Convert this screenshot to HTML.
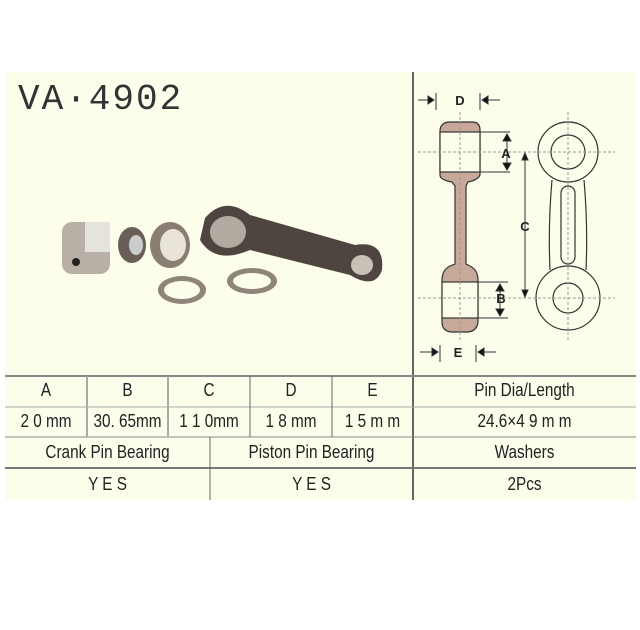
<!DOCTYPE html>
<html><head><style>
body{margin:0;width:640px;height:630px;background:#fff;position:relative;overflow:hidden;font-family:"Liberation Sans",sans-serif}
#p{position:absolute;left:5px;top:72px;width:631px;height:428px;background:#fdfdec}
.t{position:absolute;font-family:"Liberation Sans Narrow","Liberation Sans",sans-serif;font-size:18px;color:#222;text-align:center;transform:scaleX(.85)}
</style></head><body>
<div id="p"></div>
<div style="position:absolute;left:18px;top:78px;font-family:'Liberation Mono',monospace;font-size:36px;letter-spacing:2px;color:#333;line-height:44px">VA·4902</div>
<svg style="position:absolute;left:0;top:0" width="640" height="630">
<g stroke="#666" fill="none">
<line x1="413" y1="72" x2="413" y2="500" stroke-width="2"/>
<line x1="5" y1="376" x2="636" y2="376" stroke-width="2" stroke="#888"/>
<line x1="5" y1="407" x2="636" y2="407" stroke="#aaa"/>
<line x1="5" y1="437" x2="636" y2="437" stroke="#888"/>
<line x1="5" y1="468" x2="636" y2="468" stroke-width="2" stroke="#777"/>
<line x1="87" y1="376" x2="87" y2="437" stroke="#aaa" stroke-width="2"/>
<line x1="168" y1="376" x2="168" y2="437" stroke="#aaa" stroke-width="2"/>
<line x1="250" y1="376" x2="250" y2="437"/>
<line x1="332" y1="376" x2="332" y2="437"/>
<line x1="210" y1="437" x2="210" y2="500"/>
</g>
<g>
<rect x="62" y="222" width="48" height="52" rx="10" fill="#b8b0a6"/>
<rect x="85" y="222" width="25" height="30" fill="#e6e2dc"/>
<circle cx="76" cy="262" r="4" fill="#222"/>
<ellipse cx="132" cy="245" rx="14" ry="18" fill="#6a5f58"/>
<ellipse cx="136" cy="245" rx="7" ry="10" fill="#ccc"/>
<ellipse cx="170" cy="245" rx="20" ry="23" fill="#8a7d72"/>
<ellipse cx="173" cy="245" rx="13" ry="16" fill="#e8e4da"/>
<path d="M205 218 Q225 195 250 215 L355 245 Q385 240 382 270 Q375 290 350 275 L250 250 Q215 265 200 240Z" fill="#4e4540"/>
<ellipse cx="228" cy="232" rx="18" ry="16" fill="#b2aaa0"/>
<ellipse cx="362" cy="265" rx="11" ry="10" fill="#c9c1b6"/>
<ellipse cx="182" cy="290" rx="24" ry="14" fill="#8e847a"/>
<ellipse cx="182" cy="290" rx="18" ry="9" fill="#fdfdec"/>
<ellipse cx="252" cy="281" rx="25" ry="13" fill="#8e847a"/>
<ellipse cx="252" cy="281" rx="19" ry="8" fill="#fdfdec"/>
</g>
<g stroke="#333" fill="none" stroke-width="1.2">
<path d="M440 130 Q441 122 450 122 L472 122 Q480 122 480 130 L480 175 Q478 180 468 182 L466 186 L466 264 L470 266 Q478 270 478 280 L478 322 Q477 331 468 332 L451 332 Q442 331 442 322 L442 280 Q442 270 450 266 L455 264 L455 186 L452 182 Q440 180 440 175Z" fill="#c8a898"/>
<rect x="440" y="132" width="40" height="40" fill="#fdfdec"/>
<rect x="442" y="282" width="36" height="36" fill="#fdfdec"/>
<circle cx="568" cy="152" r="30"/><circle cx="568" cy="152" r="17"/>
<circle cx="568" cy="298" r="32"/><circle cx="568" cy="298" r="15"/>
<path d="M552 180 Q548 225 550 270 M584 180 Q588 225 586 270"/>
<rect x="561" y="186" width="14" height="78" rx="7"/>
</g>
<g stroke="#999" stroke-dasharray="3,2" stroke-width="1">
<line x1="418" y1="152" x2="615" y2="152"/><line x1="418" y1="298" x2="615" y2="298"/>
<line x1="460" y1="112" x2="460" y2="340"/><line x1="568" y1="112" x2="568" y2="340"/>
</g>
<g stroke="#333" stroke-width="1" fill="#111">
<line x1="480" y1="132" x2="510" y2="132"/><line x1="480" y1="172" x2="510" y2="172"/>
<line x1="507" y1="136" x2="507" y2="168"/>
<line x1="478" y1="282" x2="508" y2="282"/><line x1="478" y1="318" x2="508" y2="318"/>
<line x1="500" y1="286" x2="500" y2="314"/>
<line x1="525" y1="155" x2="525" y2="295"/>
<line x1="436" y1="93" x2="436" y2="110"/><line x1="480" y1="93" x2="480" y2="110"/>
<line x1="418" y1="100" x2="434" y2="100"/><line x1="482" y1="100" x2="500" y2="100"/>
<line x1="440" y1="345" x2="440" y2="362"/><line x1="476" y1="345" x2="476" y2="362"/>
<line x1="420" y1="352" x2="438" y2="352"/><line x1="478" y1="352" x2="496" y2="352"/>
<polygon points="434,100 428,96 428,104"/><polygon points="482,100 488,96 488,104"/>
<polygon points="438,352 432,348 432,356"/><polygon points="478,352 484,348 484,356"/>
<polygon points="507,134 503,141 511,141"/><polygon points="507,170 503,163 511,163"/>
<polygon points="500,284 496,291 504,291"/><polygon points="500,316 496,309 504,309"/>
<polygon points="525,153 522,160 528,160"/><polygon points="525,297 522,290 528,290"/>
</g>
<g font-family="Liberation Sans" font-weight="bold" font-size="13" fill="#222" text-anchor="middle">
<text x="460" y="105">D</text><text x="506" y="158">A</text><text x="525" y="231">C</text>
<text x="501" y="303">B</text><text x="458" y="357">E</text>
</g>
</svg>
<div class="t" style="left:5px;top:380px;width:82px">A</div>
<div class="t" style="left:87px;top:380px;width:81px">B</div>
<div class="t" style="left:168px;top:380px;width:82px">C</div>
<div class="t" style="left:250px;top:380px;width:82px">D</div>
<div class="t" style="left:332px;top:380px;width:81px">E</div>
<div class="t" style="left:413px;top:380px;width:223px">Pin Dia/Length</div>
<div class="t" style="left:5px;top:411px;width:82px">2 0 mm</div>
<div class="t" style="left:87px;top:411px;width:81px">30. 65mm</div>
<div class="t" style="left:168px;top:411px;width:82px">1 1 0mm</div>
<div class="t" style="left:250px;top:411px;width:82px">1 8 mm</div>
<div class="t" style="left:332px;top:411px;width:81px">1 5 m m</div>
<div class="t" style="left:413px;top:411px;width:223px">24.6×4 9 m m</div>
<div class="t" style="left:5px;top:442px;width:205px">Crank Pin Bearing</div>
<div class="t" style="left:210px;top:442px;width:203px">Piston Pin Bearing</div>
<div class="t" style="left:413px;top:442px;width:223px">Washers</div>
<div class="t" style="left:5px;top:474px;width:205px">Y E S</div>
<div class="t" style="left:210px;top:474px;width:203px">Y E S</div>
<div class="t" style="left:413px;top:474px;width:223px">2Pcs</div>
</body></html>
